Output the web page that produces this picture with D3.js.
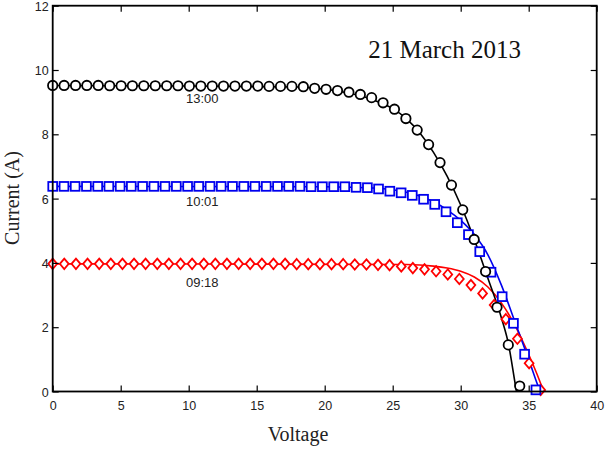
<!DOCTYPE html>
<html>
<head>
<meta charset="utf-8">
<script src="https://cdn.jsdelivr.net/npm/d3@7"></script>
<style>
  html, body { margin: 0; padding: 0; background: #fff; }
  svg { display: block; }
</style>
</head>
<body>
<svg id="chart" width="613" height="450"></svg>
<script>
// ---------- data ----------
const xTicks = [0, 5, 10, 15, 20, 25, 30, 35, 40];
const yTicks = [0, 2, 4, 6, 8, 10, 12];

// 13:00 measured (circles)
const v1300 = [0, 0.84, 1.68, 2.51, 3.35, 4.19, 5.03, 5.86, 6.70, 7.54, 8.38, 9.21, 10.05, 10.89, 11.73, 12.56, 13.40, 14.24, 15.08, 15.91, 16.75, 17.59, 18.43, 19.26, 20.10, 20.94, 21.78, 22.62, 23.45, 24.29, 25.13, 25.97, 26.80, 27.64, 28.48, 29.32, 30.15, 30.99, 31.83, 32.67, 33.50, 34.34];
const i1300 = [9.52, 9.52, 9.52, 9.52, 9.52, 9.51, 9.51, 9.51, 9.51, 9.51, 9.51, 9.51, 9.50, 9.50, 9.50, 9.50, 9.50, 9.50, 9.50, 9.49, 9.49, 9.49, 9.48, 9.43, 9.40, 9.36, 9.31, 9.24, 9.14, 8.98, 8.78, 8.49, 8.13, 7.68, 7.12, 6.42, 5.65, 4.73, 3.73, 2.62, 1.45, 0.17];
// 13:00 model (line)
const v1300Fit = [0, 10, 18, 20, 22, 23, 24, 25, 26, 27, 28, 29, 30, 31, 32, 33, 33.5, 34, 34.1];
const i1300Fit = [9.52, 9.50, 9.47, 9.40, 9.26, 9.15, 9.00, 8.80, 8.49, 8.04, 7.44, 6.70, 5.80, 4.73, 3.52, 2.28, 1.50, 0.25, 0];

// 10:01 measured (squares)
const v1001 = [0, 0.83, 1.65, 2.48, 3.31, 4.13, 4.96, 5.78, 6.61, 7.44, 8.26, 9.09, 9.92, 10.74, 11.57, 12.39, 13.22, 14.05, 14.87, 15.70, 16.53, 17.35, 18.18, 19.00, 19.83, 20.66, 21.48, 22.31, 23.14, 23.96, 24.79, 25.62, 26.44, 27.27, 28.09, 28.92, 29.75, 30.57, 31.40, 32.23, 33.05, 33.88, 34.70, 35.53];
const i1001 = [6.38, 6.38, 6.38, 6.38, 6.38, 6.38, 6.38, 6.38, 6.38, 6.38, 6.38, 6.38, 6.38, 6.38, 6.38, 6.38, 6.38, 6.38, 6.38, 6.38, 6.38, 6.38, 6.38, 6.37, 6.37, 6.37, 6.37, 6.35, 6.34, 6.30, 6.23, 6.18, 6.10, 5.98, 5.82, 5.59, 5.25, 4.88, 4.35, 3.71, 2.95, 2.12, 1.16, 0.05];
// 10:01 model (line)
const v1001Fit = [0, 20, 24, 26, 27, 28, 29, 30, 31, 32, 33, 34, 35, 35.8, 35.85];
const i1001Fit = [6.38, 6.37, 6.32, 6.20, 6.08, 5.90, 5.65, 5.32, 4.88, 4.25, 3.30, 2.15, 1.00, 0.05, 0];

// 09:18 measured (diamonds)
const v0918 = [0, 0.85, 1.71, 2.56, 3.42, 4.27, 5.13, 5.98, 6.83, 7.69, 8.54, 9.40, 10.25, 11.11, 11.96, 12.81, 13.67, 14.52, 15.38, 16.23, 17.09, 17.94, 18.79, 19.65, 20.50, 21.36, 22.21, 23.07, 23.92, 24.77, 25.63, 26.48, 27.34, 28.19, 29.05, 29.90, 30.75, 31.61, 32.46, 33.32, 34.17, 35.03, 35.88];
const i0918 = [3.97, 3.97, 3.97, 3.97, 3.97, 3.97, 3.97, 3.97, 3.97, 3.97, 3.97, 3.97, 3.97, 3.97, 3.97, 3.97, 3.97, 3.97, 3.97, 3.97, 3.97, 3.96, 3.96, 3.96, 3.96, 3.96, 3.95, 3.95, 3.94, 3.93, 3.89, 3.84, 3.80, 3.74, 3.64, 3.50, 3.31, 3.05, 2.69, 2.25, 1.64, 0.88, 0.05];
// 09:18 model (line)
const v0918Fit = [0, 26, 28, 29, 30, 31, 32, 33, 34, 35, 35.6, 36.1];
const i0918Fit = [3.97, 3.95, 3.90, 3.84, 3.74, 3.56, 3.25, 2.75, 2.05, 1.15, 0.55, 0];

const seriesLabels = ["13:00", "10:01", "09:18"];
const titleText = "21 March 2013";

// ---------- layout ----------
const svg = d3.select("#chart");
const L = 52.7, T = 5.7, R = 596.7, B = 391.5;
const x = d3.scaleLinear().domain([0, 40]).range([L, R]);
const y = d3.scaleLinear().domain([0, 12]).range([B, T]);

const zip = (a, b) => a.map((v, k) => [v, b[k]]);
const line = d3.line().x(d => x(d[0])).y(d => y(d[1])).curve(d3.curveMonotoneX);

const series = [
  { pts: zip(v0918, i0918), fit: zip(v0918Fit, i0918Fit), color: "#ff0000", shape: "diamond" },
  { pts: zip(v1001, i1001), fit: zip(v1001Fit, i1001Fit), color: "#0000ee", shape: "square" },
  { pts: zip(v1300, i1300), fit: zip(v1300Fit, i1300Fit), color: "#000000", shape: "circle" }
];

const plot = svg.append("g");
series.forEach(s => {
  plot.append("path").datum(s.fit)
    .attr("d", line).attr("fill", "none")
    .attr("stroke", s.color).attr("stroke-width", 1.6);
});
series.forEach(s => {
  const g = plot.append("g");
  s.pts.forEach(p => {
    const cx = x(p[0]), cy = y(p[1]);
    if (s.shape === "circle") {
      g.append("circle").attr("cx", cx).attr("cy", cy).attr("r", 4.7)
        .attr("fill", "#fff").attr("stroke", s.color).attr("stroke-width", 1.8);
    } else if (s.shape === "square") {
      g.append("rect").attr("x", cx - 4.4).attr("y", cy - 4.4).attr("width", 8.8).attr("height", 8.8)
        .attr("fill", "#fff").attr("stroke", s.color).attr("stroke-width", 1.8);
    } else {
      const r = 5.2;
      g.append("path").attr("d", `M${cx},${cy - r}L${cx + r * 0.85},${cy}L${cx},${cy + r}L${cx - r * 0.85},${cy}Z`)
        .attr("fill", "#fff").attr("stroke", s.color).attr("stroke-width", 1.8);
    }
  });
});

// ---------- axes / frame ----------
const tickFont = "Liberation Sans, Arial, sans-serif";
const axB = svg.append("g").attr("transform", `translate(0,${B})`)
  .call(d3.axisBottom(x).tickValues(xTicks).tickSizeInner(-6).tickSizeOuter(0).tickPadding(10));
const axT = svg.append("g").attr("transform", `translate(0,${T})`)
  .call(d3.axisTop(x).tickValues(xTicks).tickSizeInner(-6).tickSizeOuter(0).tickFormat(""));
const axL = svg.append("g").attr("transform", `translate(${L},0)`)
  .call(d3.axisLeft(y).tickValues(yTicks).tickSizeInner(-6).tickSizeOuter(0).tickPadding(4));
const axR = svg.append("g").attr("transform", `translate(${R},0)`)
  .call(d3.axisRight(y).tickValues(yTicks).tickSizeInner(-6).tickSizeOuter(0).tickFormat(""));
[axB, axT, axL, axR].forEach(a => {
  a.select(".domain").remove();
  a.selectAll(".tick line").attr("stroke", "#000").attr("stroke-width", 1.2);
  a.selectAll(".tick text").attr("font-family", tickFont).attr("font-size", 12.5).attr("fill", "#222");
});
axL.selectAll(".tick text").attr("dy", "0.36em");

svg.append("rect").attr("x", L).attr("y", T).attr("width", R - L).attr("height", B - T)
  .attr("fill", "none").attr("stroke", "#000").attr("stroke-width", 1.8);

// ---------- labels ----------
const serif = "Liberation Serif, Times New Roman, serif";
svg.append("text").attr("x", 298).attr("y", 441).attr("text-anchor", "middle")
  .attr("font-family", serif).attr("font-size", 20).attr("fill", "#222").text("Voltage");
svg.append("text").attr("transform", `translate(19,198) rotate(-90)`).attr("text-anchor", "middle")
  .attr("font-family", serif).attr("font-size", 20).attr("fill", "#222").text("Current (A)");
svg.append("text").attr("x", x(23.2)).attr("y", y(10.38))
  .attr("font-family", serif).attr("font-size", 25).attr("fill", "#111").text(titleText);

const labelPos = [[9.8, 8.96], [9.8, 5.78], [9.8, 3.26]];
seriesLabels.forEach((t, k) => {
  svg.append("text").attr("x", x(labelPos[k][0])).attr("y", y(labelPos[k][1]))
    .attr("font-family", tickFont).attr("font-size", 13).attr("fill", "#222").text(t);
});
</script>
</body>
</html>
